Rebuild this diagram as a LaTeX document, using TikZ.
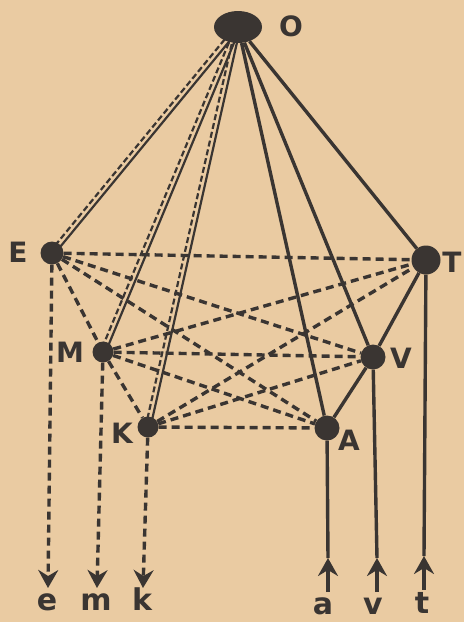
\documentclass[tikz,border=0pt]{standalone}
\usepackage{fontspec}
\setmainfont{DejaVu Sans}
\usetikzlibrary{arrows.meta,calc,shapes.geometric}
\definecolor{paper}{RGB}{234,203,162}
\definecolor{ink}{RGB}{58,53,50}
\begin{document}
\begin{tikzpicture}[x=1pt,y=-1pt,
  solidln/.style={draw=ink,line width=3.4pt},
  dashln/.style={draw=ink,line width=3.4pt,dash pattern=on 8pt off 5pt},
  thinsolid/.style={draw=ink,line width=2.2pt},
  thindash/.style={draw=ink,line width=2.2pt,dash pattern=on 6pt off 3pt},
  dot/.style={circle,fill=ink,inner sep=0pt},
  blob/.style={ellipse,fill=ink,minimum width=48pt,minimum height=32pt,inner sep=0pt},
  lab/.style={text=ink,font=\bfseries\fontsize{28}{28}\selectfont,inner sep=0pt},
  llab/.style={text=ink,font=\bfseries\fontsize{30}{30}\selectfont,inner sep=0pt},
  tip/.style={-{Stealth[length=18pt,width=20pt,inset=6pt]}}]
\fill[paper] (0,0) rectangle (464,622);
\useasboundingbox (0,0) rectangle (464,622);
% nodes
\node[blob] (O) at (238,27) {};
\node[dot,minimum size=23pt] (E) at (52,253) {};
\node[dot,minimum size=21pt] (M) at (103,352) {};
\node[dot,minimum size=21pt] (K) at (148,427) {};
\node[dot,minimum size=29pt] (T) at (426,260) {};
\node[dot,minimum size=25pt] (V) at (373,357) {};
\node[dot,minimum size=25pt] (A) at (327,428) {};
% labels
\node[lab] (lO) at (291,26) {O};
\node[lab] (lE) at (18,252) {E};
\node[lab] (lT) at (452,262) {T};
\node[lab] (lM) at (70,352) {M};
\node[lab] (lV) at (401,358) {V};
\node[lab] (lK) at (122,433) {K};
\node[lab] (lA) at (349,440) {A};
\node[llab] (le) at (47,602) {e};
\node[llab] (lm) at (96,602) {m};
\node[llab] (lk) at (142,599) {k};
\node[llab] (la) at (323,606) {a};
\node[llab] (lv) at (373,606) {v};
\node[llab] (lt) at (422,603) {t};
% free ends
\coordinate (eb) at (48,588);
\coordinate (mb) at (97,588);
\coordinate (kb) at (143,588);
\coordinate (ab) at (328,592);
\coordinate (am) at (328,558);
\coordinate (vb) at (377,592);
\coordinate (vm) at (377,558);
\coordinate (tb) at (424,590);
\coordinate (tm) at (424,556);
% bipartite dashed
\foreach \a in {E,M,K}{\foreach \b in {T,V,A}{\draw[dashln] (\a) -- (\b);}}
\draw[dashln] (E) -- (M);
\draw[dashln] (M) -- (K);
\draw[solidln] (T) -- (V);
\draw[solidln] (V) -- (A);
% from O
\foreach \b in {T,V,A}{\draw[solidln] (O) -- (\b);}
\foreach \b in {E,M,K}{
  \draw[thinsolid] ($(O)!2.4pt!90:(\b)$) -- ($(\b)!2.4pt!-90:(O)$);
  \draw[thindash] ($(O)!2.4pt!-90:(\b)$) -- ($(\b)!2.4pt!90:(O)$);
}
% outputs
\draw[dashln,tip] (E) -- (eb);
\draw[dashln,tip] (M) -- (mb);
\draw[dashln,tip] (K) -- (kb);
\draw[solidln] (A) -- (am);
\draw[solidln,tip] (ab) -- (am);
\draw[solidln] (V) -- (vm);
\draw[solidln,tip] (vb) -- (vm);
\draw[solidln] (T) -- (tm);
\draw[solidln,tip] (tb) -- (tm);
\end{tikzpicture}
\end{document}
